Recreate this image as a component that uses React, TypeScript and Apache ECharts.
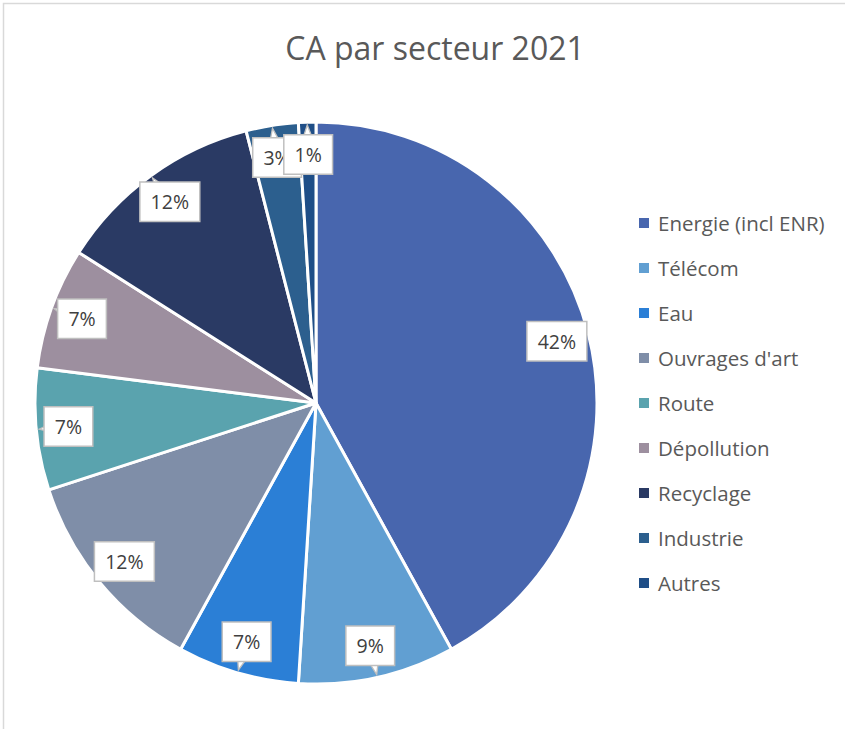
import React, { useEffect, useRef } from "react";
import * as echarts from "echarts";

const categories = [
  "Energie (incl ENR)",
  "Télécom",
  "Eau",
  "Ouvrages d'art",
  "Route",
  "Dépollution",
  "Recyclage",
  "Industrie",
  "Autres",
];
const shares = [42, 9, 7, 12, 7, 7, 12, 3, 1];
const colors = [
  "#4866AE",
  "#619FD2",
  "#2B7FD6",
  "#7F8EA8",
  "#5AA3AE",
  "#9D8F9F",
  "#2A3A64",
  "#2C5F8E",
  "#1F4E87",
];
const titleText = "CA par secteur 2021";

const FONT = "'Open Sans', 'Noto Sans', sans-serif";
const CENTER = [316, 403];
const RADIUS = 281;
const LABEL_R = 88.5; // % of radius
const TAIL_R = 96.5;

export default function App() {
  const ref = useRef<HTMLDivElement>(null);
  useEffect(() => {
    document.body.style.margin = "0";
    if (!ref.current) return;
    const chart = echarts.init(ref.current, undefined, { renderer: "svg" });
    const total = shares.reduce((a, b) => a + b, 0);
    let cum = 0;
    const mids = shares.map((v) => {
      const m = ((cum + v / 2) / total) * 100;
      cum += v;
      return m;
    });
    const data = categories.map((name, i) => ({
      name,
      value: shares[i],
      itemStyle: { color: colors[i] },
    }));
    chart.setOption({
      animation: false,
      backgroundColor: "#ffffff",
      title: {
        text: titleText,
        left: 430,
        textAlign: "center",
        top: 26,
        textStyle: {
          fontFamily: FONT,
          fontSize: 32,
          fontWeight: "normal",
          color: "#595959",
        },
      },
      graphic: [
        {
          type: "rect",
          shape: { x: 3.5, y: 3.5, width: 900, height: 800 },
          style: { fill: "none", stroke: "#d9d9d9", lineWidth: 1.5 },
          silent: true,
          z: 100,
        },
      ],
      legend: {
        orient: "vertical",
        left: 639,
        top: 212,
        padding: 0,
        icon: "path://M0,0L10,0L10,10L0,10Z M14,5L14,5.01",
        itemWidth: 14,
        itemHeight: 10,
        itemGap: 23,
        itemStyle: { borderWidth: 0 },
        data: categories,
        textStyle: {
          fontFamily: FONT,
          fontSize: 20.5,
          color: "#595959",
          lineHeight: 22,
        },
      },
      polar: { center: CENTER, radius: RADIUS },
      angleAxis: {
        type: "value",
        min: 0,
        max: 100,
        startAngle: 90,
        clockwise: true,
        show: false,
      },
      radiusAxis: { type: "value", min: 0, max: 100, show: false },
      series: [
        {
          type: "pie",
          center: CENTER,
          radius: [0, RADIUS],
          startAngle: 90,
          clockwise: true,
          data,
          silent: true,
          z: 2,
          label: { show: false },
          labelLine: { show: false },
          itemStyle: { borderColor: "#ffffff", borderWidth: 3 },
          emphasis: { disabled: true },
        },
        {
          type: "scatter",
          coordinateSystem: "polar",
          silent: true,
          z: 3,
          symbol: "triangle",
          symbolSize: [10, 14],
          data: mids.map((m) => ({
            value: [TAIL_R, m],
            symbolRotate: -m * 3.6,
          })),
          itemStyle: {
            color: "#ffffff",
            borderColor: "#bfbfbf",
            borderWidth: 1.5,
            opacity: 1,
          },
          emphasis: { disabled: true },
        },
        {
          type: "scatter",
          coordinateSystem: "polar",
          silent: true,
          z: 4,
          symbolSize: 1,
          itemStyle: { color: "rgba(0,0,0,0)", opacity: 1 },
          data: mids.map((m) => ({
            value: [LABEL_R, m],
          })),
          emphasis: { disabled: true },
          label: {
            show: true,
            position: "inside",
            formatter: (p: any) => `${shares[p.dataIndex]}%`,
            fontFamily: FONT,
            fontSize: 19.5,
            color: "#404040",
            backgroundColor: "#ffffff",
            borderColor: "#bfbfbf",
            borderWidth: 1.5,
            opacity: 1,
            padding: [10, 10, 8, 10],
          },
        },
      ],
    });
    return () => chart.dispose();
  }, []);
  return <div ref={ref} style={{ width: 845, height: 729 }} />;
}
